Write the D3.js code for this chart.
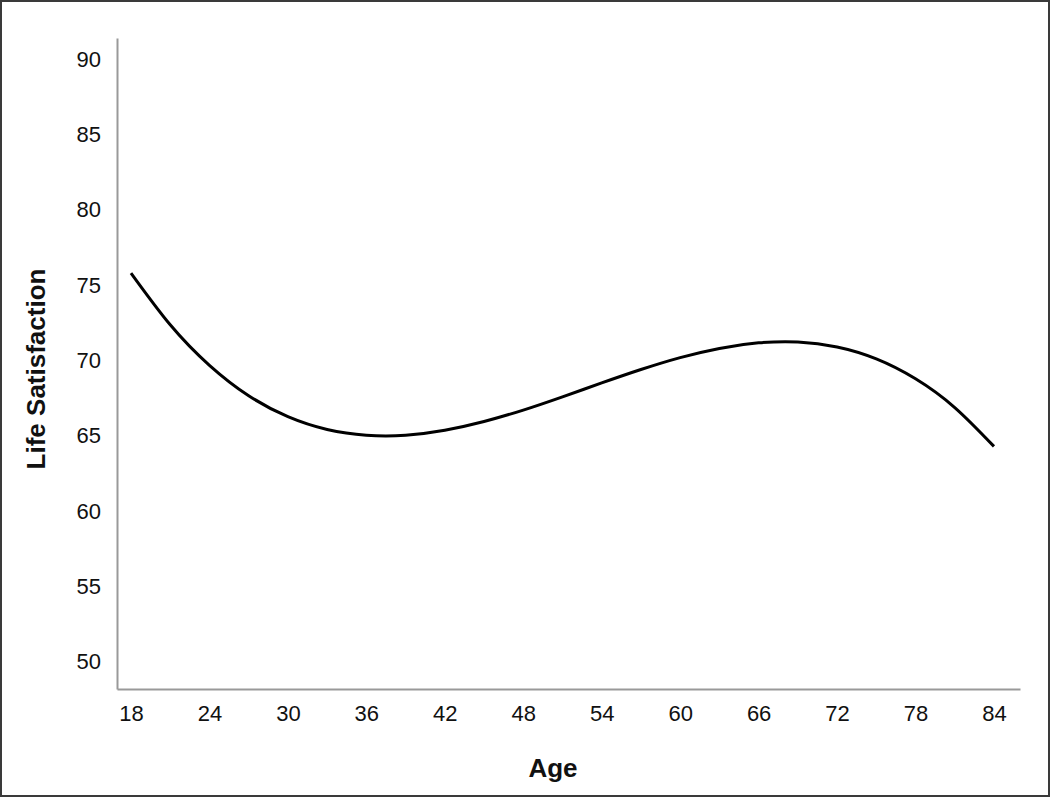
<!DOCTYPE html>
<html>
<head>
<meta charset="utf-8">
<script src="https://cdn.jsdelivr.net/npm/d3@7"></script>
<style>
  body { margin: 0; background: #fff; }
  svg { display: block; font-family: "Liberation Sans", Arial, sans-serif; }
</style>
</head>
<body>
<svg></svg>
<script>
// Values
const ages = [18, 21, 24, 27, 30, 33, 36, 39, 42, 45, 48, 51, 54, 57, 60, 63, 66, 69, 72, 75, 78, 81, 84];
const satisfaction = [75.8, 72.37, 69.68, 67.66, 66.27, 65.42, 65.04, 65.04, 65.37, 65.95, 66.71, 67.59, 68.51, 69.4, 70.19, 70.8, 71.17, 71.23, 70.9, 70.11, 68.79, 66.88, 64.3];
const xTicks = [18, 24, 30, 36, 42, 48, 54, 60, 66, 72, 78, 84];
const yTicks = [50, 55, 60, 65, 70, 75, 80, 85, 90];

const data = ages.map((a, i) => ({age: a, value: satisfaction[i]}));

const W = 1050, H = 797;
const margin = {top: 38, right: 30, bottom: 108, left: 117},
      width = W - margin.left - margin.right,
      height = H - margin.top - margin.bottom;

const svg = d3.select("svg")
  .attr("width", W)
  .attr("height", H);

// outer frame
svg.append("rect")
  .attr("x", 1).attr("y", 1)
  .attr("width", W - 2).attr("height", H - 2)
  .attr("fill", "#fff")
  .attr("stroke", "#3a3a3a")
  .attr("stroke-width", 2);

const g = svg.append("g")
  .attr("transform", "translate(" + margin.left + "," + margin.top + ")");

const x = d3.scaleLinear()
  .domain([16.93, 85.99])
  .range([0, width]);

const y = d3.scaleLinear()
  .domain([48.2, 91.4])
  .range([height, 0]);

// x axis
const xAxis = g.append("g")
  .attr("transform", "translate(0," + height + ")")
  .call(d3.axisBottom(x).tickValues(xTicks).tickSize(0).tickSizeOuter(0).tickPadding(16));

// y axis
const yAxis = g.append("g")
  .call(d3.axisLeft(y).tickValues(yTicks).tickSize(0).tickSizeOuter(0).tickPadding(16));

[xAxis, yAxis].forEach(ax => {
  ax.select(".domain").attr("stroke", "#999").attr("stroke-width", 2);
  ax.selectAll("text")
    .attr("font-family", "Liberation Sans, Arial, sans-serif")
    .attr("font-size", 22)
    .attr("fill", "#111");
});

// curve
const line = d3.line()
  .x(d => x(d.age))
  .y(d => y(d.value))
  .curve(d3.curveNatural);

g.append("path")
  .datum(data)
  .attr("fill", "none")
  .attr("stroke", "#000")
  .attr("stroke-width", 3)
  .attr("d", line);

// axis titles
svg.append("text")
  .attr("x", 553)
  .attr("y", 777)
  .attr("text-anchor", "middle")
  .attr("font-size", 26)
  .attr("font-weight", "bold")
  .attr("fill", "#111")
  .text("Age");

svg.append("text")
  .attr("transform", "translate(45,369) rotate(-90)")
  .attr("text-anchor", "middle")
  .attr("font-size", 26)
  .attr("font-weight", "bold")
  .attr("fill", "#111")
  .text("Life Satisfaction");
</script>
</body>
</html>
